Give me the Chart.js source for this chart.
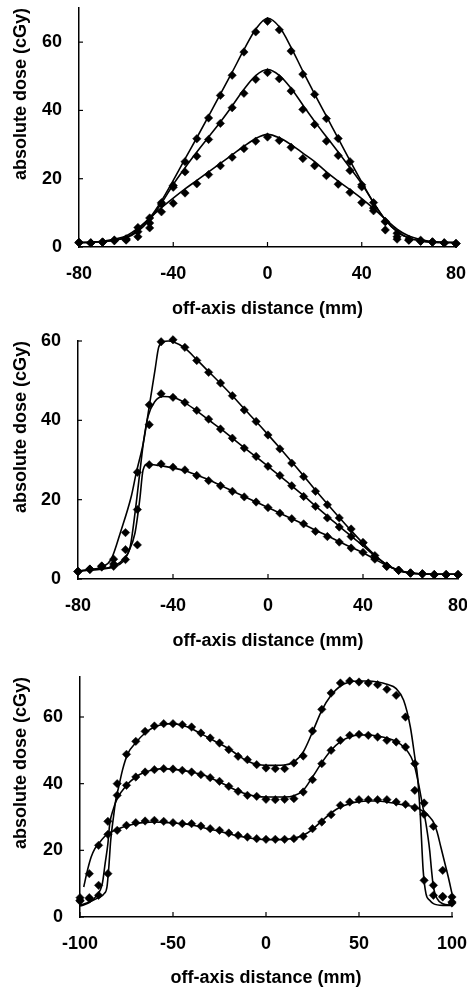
<!DOCTYPE html>
<html>
<head>
<meta charset="utf-8">
<script src="https://cdn.jsdelivr.net/npm/chart.js@4.4.1/dist/chart.umd.min.js"></script>
<style>
  body { margin: 0; background: #fff; }
  .panel { position: absolute; left: 0; width: 467px; height: 330px; }
</style>
</head>
<body>
<div class="panel" style="top:0px"><canvas id="c1" width="467" height="330"></canvas></div>
<div class="panel" style="top:330px"><canvas id="c2" width="467" height="330"></canvas></div>
<div class="panel" style="top:660px"><canvas id="c3" width="467" height="330"></canvas></div>
<script>
// ---- panel 1: symmetric profiles ----
const p1XTicks = [-80, -40, 0, 40, 80];
const p1YTicks = [0, 20, 40, 60];
const p1X = [-80,-75,-70,-65,-60,-55,-50,-45,-40,-35,-30,-25,-20,-15,-10,-5,0,5,10,15,20,25,30,35,40,45,50,55,60,65,70,75,80];
// calculated (lines)
const p1TopLine = [1.3,1.4,1.6,2.0,2.8, 5.0,8.5,13.5,19.5,25.8, 32.0,38.3,44.8,51.2,57.8, 63.8,67.0,64.5,58.5,51.5, 44.8,38.3,31.8,25.3,19.0, 13.0,8.0,4.5,2.6,1.8, 1.4,1.3,1.3];
const p1MidLine = [1.3,1.4,1.6,2.0,2.7, 4.6,8.0,12.8,18.3,23.2, 27.8,32.2,36.6,41.3,46.2, 50.2,52.0,50.3,46.5,41.6, 36.8,32.3,27.8,23.2,18.5, 13.0,8.0,4.5,2.6,1.8, 1.4,1.3,1.3];
const p1LowLine = [1.3,1.4,1.7,2.3,3.2, 5.5,8.5,11.5,14.3,17.0, 19.5,22.0,24.5,27.0,29.5, 31.8,33.0,32.0,30.0,27.5, 25.0,22.0,19.3,16.8,14.2, 11.3,8.2,5.2,3.2,2.2, 1.6,1.4,1.3];
// measured (diamonds)
const p1TopPts = [1.3,1.2,1.4,2.0,2.0, 3.0,5.6,13.0,18.0,25.0, 31.7,37.8,44.4,50.3,57.1, 63.0,66.1,63.6,57.4,50.6, 44.7,37.6,31.8,25.0,18.2, 13.0,7.5,3.0,2.0,1.7, 1.5,1.2,1.0];
const p1MidPts = [1.3,1.2,1.4,1.8,2.2, 4.5,7.0,12.6,17.5,22.0, 26.6,31.5,36.2,40.8,45.0, 49.1,51.1,49.3,45.7,40.3, 35.9,31.0,26.8,22.4,17.6, 11.4,5.0,2.3,2.0,1.7, 1.4,1.2,1.0];
const p1LowPts = [1.3,1.2,1.5,2.0,2.4, 5.7,8.5,10.3,12.8,15.8, 18.5,21.2,23.8,26.3,28.8, 31.0,32.2,31.2,29.2,25.9, 23.8,20.9,18.4,16.0,13.0, 10.6,7.4,4.0,2.3,2.0, 1.5,1.2,1.0];

// ---- panel 2: wedge profiles ----
const p2XTicks = [-80, -40, 0, 40, 80];
const p2YTicks = [0, 20, 40, 60];
const p2X = [-80,-75,-70,-65,-60,-55,-50,-45,-40,-35,-30,-25,-20,-15,-10,-5,0,5,10,15,20,25,30,35,40,45,50,55,60,65,70,75,80];
const p2TopPts = [1.9,2.5,3.3,5.0,11.7, 26.9,43.9,59.8,60.3,58.4, 55.1,52.1,49.4,46.2,42.6, 39.7,36.3,32.8,29.2,25.8, 22.1,18.7,15.4,12.6,9.2, 5.9,3.3,2.2,1.5,1.3, 1.1,1.1,1.1];
const p2MidPts = [1.9,2.5,3.2,3.8,7.4, 17.5,38.9,46.7,45.8,44.5, 42.5,40.3,37.8,35.5,33.0, 30.9,28.4,26.1,23.5,20.8, 18.3,15.4,13.1,10.7,9.1, 5.3,3.2,2.2,1.5,1.3, 1.1,1.1,1.1];
const p2LowPts = [1.9,2.4,3.0,3.2,4.9, 8.6,28.8,29.0,28.2,27.5, 26.1,24.8,23.5,22.1,20.7, 19.4,18.0,16.6,15.2,13.9, 12.0,10.7,9.3,7.8,6.7, 5.0,3.2,2.2,1.5,1.3, 1.1,1.1,1.1];
const p2TopLineX = [-80,-75,-70,-66,-62,-57.5,-55.5,-52.5,-50,-47.5,-46,-44,-42,-40,-35,-30,-25,-20,-15,-10,-5,0,5,10,15,20,25,30,35,40,45,50,55,60,65,70,75,80];
const p2TopLineY = [2,2.4,3,5,12,21,26.7,34.3,43.5,53,58.5,59.8,60,59.8, 58.2,55.3,52.3,49.3,46.2,42.9,39.7,36.4,33,29.5,26,22.4,18.9,15.5,12.2,9,6,3.6,2.2,1.5,1.3,1.2,1.2,1.2];
const p2MidLineX = [-80,-75,-70,-65,-61,-58,-56,-54,-52.3,-50.5,-47.7,-44,-40,-35,-30,-25,-20,-15,-10,-5,0,5,10,15,20,25,30,35,40,45,50,55,60,65,70,75,80];
const p2MidLineY = [2,2.3,2.6,3.2,4.9,8.2,16.6,26.7,35.1,41,44.7,46, 45.8,44.4,42.4,40.1,37.9,35.5,33.1,30.8,28.4,26,23.5,21,18.4,15.8,13.3,10.8,8.4,5.8,3.6,2.1,1.5,1.3,1.2,1.2,1.2];
const p2LowLineX = [-80,-75,-70,-65,-61,-59,-56,-54,-52.6,-50.5,-47,-43.5,-40,-35,-30,-25,-20,-15,-10,-5,0,5,10,15,20,25,30,35,40,45,50,55,60,65,70,75,80];
const p2LowLineY = [2,2.2,2.5,3,4.4,6.5,11.6,20,27.5,29,28.7,28.4,28, 27.3,26.2,25,23.6,22.2,20.8,19.4,18,16.6,15.2,13.8,12.3,10.9,9.4,8,6.6,5,3.4,2.2,1.5,1.3,1.2,1.2,1.2];

// ---- panel 3: double-hump profiles ----
const p3XTicks = [-100, -50, 0, 50, 100];
const p3YTicks = [0, 20, 40, 60];
const p3X = [-100,-95,-90,-85,-80,-75,-70,-65,-60,-55,-50,-45,-40,-35,-30,-25,-20,-15,-10,-5,0,5,10,15,20,25,30,35,40,45,50,55,60,65,70,75,80,85,90,95,100];
const p3TopPts = [4.8,5.5,6.5,13,40, 48.8,52.7,55.7,57.3,58, 58,57.7,57,55.2,53.7, 52.2,50.2,48.2,47.2,45.7, 44.7,44.5,44.5,46.2,48.3, 55.8,62.3,67.2,70.2,70.8, 70.5,70.2,69.7,68.3,66.5, 60,38,11,6.5,6, 4.5];
const p3MidPts = [5,5.8,9.5,28.7,36.5, 39.5,42,43.5,44.2,44.5, 44.4,44,43.5,42.7,41.8, 40.7,39.2,37.7,36.5,36.2, 35.3,35.2,35.3,35.5,37.5, 41.2,46,50,53,54.5, 54.8,54.5,54,53,52.5, 51,46,34.2,9.5,6.2, 4.2];
const p3LowPts = [5.8,13,21.5,24.8,26, 27.5,28.3,28.8,29,28.7, 28.3,28,28,27.3,26.5, 26,25.2,24.5,24,23.5, 23.3,23.3,23.3,23.5,24.2, 26.5,28.5,30.7,33.5,34.5, 35.2,35.2,35.2,35.2,34.5, 33.8,32.8,30.8,27.2,14, 6];
const p3TopLineX = [-100,-95,-90,-87,-85.5,-84.5,-83.5,-82,-80.8,-79,-77.2,-74.3,-70,-65,-60,-55,-50,-45,-40,-35,-30,-25,-20,-15,-10,-5,0,5,10,15,20,25,30,35,40,45,50,55,60,65,70,74,77.6,80,81.5,83,84.5,86,88,90,95,100];
const p3TopLineY = [3.5,4.5,5.8,7,9,15,23,30,35,39.5,44,49,52.3,55.2,57,57.8,58,57.5,56.5,55,53.5,52,50.5,48.5,46.8,45.8,45.5,45.5,45.6,46.5,49.5,55.5,62,66.5,69.3,70.5,70.8,70.8,70.5,69.8,68.5,65,57,48,42,30,14,7,5,4,3.5,3.5];
const p3MidLineX = [-100,-95,-91,-88,-86.5,-85,-84,-82,-80,-75,-70,-65,-60,-55,-50,-45,-40,-35,-30,-25,-20,-15,-10,-5,0,5,10,15,20,25,30,35,40,45,50,55,60,65,70,75,78,80,82,84,86,88,89,90,92,95,100];
const p3MidLineY = [3.3,4.3,6.5,10,16,22,28,32.5,35.5,39.5,42,43.5,44.2,44.5,44.3,44,43.5,42.8,41.8,40.5,39.1,37.8,36.8,36.2,36,36,36,36.4,38,42,46.3,50,52.6,54,54.6,54.6,54.3,53.7,52.7,50.5,48,45,40,34,28,20,14,9,5.5,4,3.5];
const p3LowLineX = [-98,-96,-94,-92,-90,-87,-85,-80,-75,-70,-65,-60,-55,-50,-45,-40,-35,-30,-25,-20,-15,-10,-5,0,5,10,15,20,25,30,35,40,45,50,55,60,65,70,75,80,85,88,90,92,94,96,98,100];
const p3LowLineY = [9,14,18,20.5,22,24,25, 26.3,27.3,28,28.4,28.5,28.4,28.2,28,27.6,27,26.3,25.7,25,24.3,23.8,23.4,23.2,23.2,23.3,23.6,24.5,26.3,28.8,31.2,33,34,34.6,34.8,34.8,34.5,34,33.5,33, 31.5,30,28.5,25.5,21,16.5,12,7];

Chart.defaults.font.family = '"Liberation Sans", Arial, Helvetica, sans-serif';
Chart.defaults.font.weight = 'bold';
Chart.defaults.color = '#000';

function toXY(xs, ys) {
  return xs.map((x, i) => ({ x: x, y: ys[i] }));
}

// short tick marks pointing into the plot
const innerTicks = {
  id: 'innerTicks',
  afterDraw(chart) {
    const { ctx, chartArea } = chart;
    const xs = chart.scales.x, ys = chart.scales.y;
    ctx.save();
    ctx.strokeStyle = '#000';
    ctx.lineWidth = 1.2;
    xs.ticks.forEach(t => {
      const px = xs.getPixelForValue(t.value);
      ctx.beginPath();
      ctx.moveTo(px, chartArea.bottom);
      ctx.lineTo(px, chartArea.bottom - 5);
      ctx.stroke();
    });
    ys.ticks.forEach(t => {
      const py = ys.getPixelForValue(t.value);
      ctx.beginPath();
      ctx.moveTo(chartArea.left, py);
      ctx.lineTo(chartArea.left + 4, py);
      ctx.stroke();
    });
    ctx.restore();
  }
};

function makePanel(id, o) {
  const datasets = [];
  o.points.forEach(ys => {
    datasets.push({
      data: toXY(o.x, ys),
      showLine: false,
      pointStyle: 'rectRot',
      pointRadius: 4.2,
      pointBackgroundColor: '#000',
      pointBorderColor: '#000',
      pointBorderWidth: 0.5,
      clip: false
    });
  });
  o.lines.forEach(l => {
    datasets.push({
      data: toXY(l[0], l[1]),
      showLine: true,
      pointRadius: 0,
      borderColor: '#000',
      borderWidth: 1.6,
      cubicInterpolationMode: 'monotone',
      fill: false,
      clip: false
    });
  });

  return new Chart(document.getElementById(id), {
    type: 'scatter',
    data: { datasets: datasets },
    options: {
      responsive: false,
      animation: false,
      layout: { padding: { top: o.padTop, right: o.padRight, left: 0, bottom: 0 } },
      plugins: { legend: { display: false }, tooltip: { enabled: false } },
      scales: {
        x: {
          type: 'linear',
          min: o.xTicks[0],
          max: o.xTicks[o.xTicks.length - 1],
          afterBuildTicks: s => { s.ticks = o.xTicks.map(v => ({ value: v })); },
          afterFit: s => { s.height = o.xHeight; s.paddingLeft = 0; s.paddingRight = 0; },
          grid: { drawOnChartArea: false, drawTicks: false },
          border: { color: '#000', width: 1.5 },
          ticks: { padding: 16, font: { size: 18, weight: 'bold' }, color: '#000', maxRotation: 0, autoSkip: false },
          title: {
            display: true, text: 'off-axis distance (mm)', color: '#000',
            font: { size: 18, weight: 'bold' }, padding: { top: 0, bottom: o.titlePad }
          }
        },
        y: {
          type: 'linear',
          min: 0,
          max: o.yMax,
          afterBuildTicks: s => { s.ticks = o.yTicks.map(v => ({ value: v })); },
          afterFit: s => { s.width = o.yWidth; s.paddingTop = 0; s.paddingBottom = 0; },
          grid: { drawOnChartArea: false, drawTicks: false },
          border: { color: '#000', width: 1.5 },
          ticks: { padding: 17, font: { size: 18, weight: 'bold' }, color: '#000' },
          title: {
            display: true, text: 'absolute dose (cGy)', color: '#000', align: 'end',
            font: { size: 18, weight: 'bold' }, padding: { top: 10, bottom: 0 }
          }
        }
      }
    },
    plugins: [innerTicks]
  });
}

makePanel('c1', {
  x: p1X, points: [p1TopPts, p1MidPts, p1LowPts],
  lines: [[p1X, p1TopLine], [p1X, p1MidLine], [p1X, p1LowLine]],
  xTicks: p1XTicks, yTicks: p1YTicks, yMax: 70,
  padTop: 8, padRight: 11, yWidth: 79, xHeight: 83, titlePad: 10
});

makePanel('c2', {
  x: p2X, points: [p2TopPts, p2MidPts, p2LowPts],
  lines: [[p2TopLineX, p2TopLineY], [p2MidLineX, p2MidLineY], [p2LowLineX, p2LowLineY]],
  xTicks: p2XTicks, yTicks: p2YTicks, yMax: 60,
  padTop: 11, padRight: 9, yWidth: 78, xHeight: 81, titlePad: 8
});

makePanel('c3', {
  x: p3X, points: [p3TopPts, p3MidPts, p3LowPts],
  lines: [[p3TopLineX, p3TopLineY], [p3MidLineX, p3MidLineY], [p3LowLineX, p3LowLineY]],
  xTicks: p3XTicks, yTicks: p3YTicks, yMax: 72,
  padTop: 17, padRight: 15, yWidth: 80, xHeight: 73, titlePad: 1
});
</script>
</body>
</html>
